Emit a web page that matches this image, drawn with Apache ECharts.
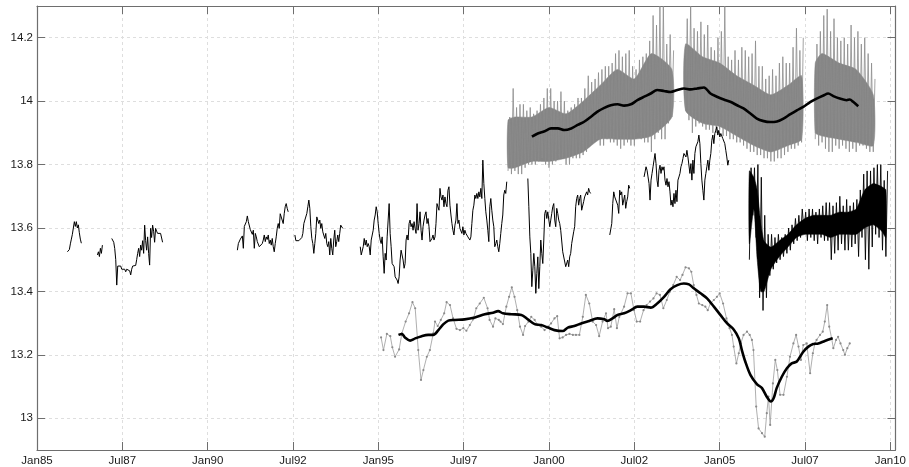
<!DOCTYPE html>
<html><head><meta charset="utf-8">
<script src="https://cdn.jsdelivr.net/npm/echarts@6/dist/echarts.min.js"></script>
<style>html,body{margin:0;padding:0;background:#fff}#c{width:909px;height:467px}</style>
</head><body><div id="c"></div><script>
// ---- axis ticks ----
const X_TICKS = [1985, 1987.5, 1990, 1992.5, 1995, 1997.5, 2000, 2002.5, 2005, 2007.5, 2010];
const Y_TICKS = [13, 13.2, 13.4, 13.6, 13.8, 14, 14.2];

// ---- gray dense band: extremes every 0.1 yr from 1998.8 ----
const GRAY_START = 1998.8, GRAY_STEP = 0.1;
const grayHi = [13.95,14.04,13.98,13.99,13.99,13.97,13.98,13.96,13.97,13.99,14.01,14.04,
  14.04,14.00,14.00,14.03,14.00,13.97,13.98,13.99,14.01,14.01,
  14.04,14.08,14.06,14.07,14.09,14.10,14.11,14.11,14.12,14.15,
  14.16,14.14,14.15,14.16,14.11,14.10,14.13,14.14,14.15,14.19,
  14.27,14.24,14.30,14.30,14.18,14.21,14.16,null,null,null,
  14.26,14.30,14.23,14.22,14.25,14.21,14.24,14.17,14.16,14.20,
  14.22,14.30,14.14,14.13,14.16,14.13,14.17,14.16,14.14,14.15,
  14.19,14.11,14.11,14.07,14.08,14.10,14.08,14.12,14.14,14.12,
  14.12,14.17,14.23,14.16,14.20,null,null,null,14.18,14.22,
  14.27,14.29,14.22,14.26,14.20,14.19,14.20,14.18,14.24,14.20,
  14.22,14.18,14.20,14.15,14.12,14.07];
const grayLo = [13.78,13.77,13.78,13.77,13.77,13.79,13.80,13.80,13.80,13.81,13.82,13.80,
  13.79,13.80,13.81,13.82,13.82,13.80,13.80,13.82,13.82,13.82,
  13.83,13.84,13.86,13.87,13.88,13.86,13.86,13.88,13.87,13.87,
  13.86,13.85,13.86,13.87,13.86,13.86,13.90,13.88,13.87,13.87,
  13.84,13.88,13.90,13.88,13.88,13.93,13.95,null,null,null,
  13.97,13.94,13.90,13.92,13.93,13.92,13.91,13.91,13.90,13.90,
  13.91,13.89,13.89,13.88,13.88,13.87,13.87,13.86,13.85,13.84,
  13.84,13.83,13.83,13.82,13.82,13.81,13.81,13.82,13.82,13.83,
  13.84,13.85,13.85,13.86,13.87,null,null,null,13.88,13.86,
  13.87,13.85,13.84,13.84,13.86,13.85,13.86,13.85,13.84,13.85,
  13.84,13.86,13.86,13.85,13.84,13.84];
// dense core of the gray band (null = gap)
const grayCoreYears = [1998.8,1999.0,1999.5,2000.0,2000.5,2001.0,2001.5,2002.0,2002.5,2003.0,2003.6,null,2004.0,2004.5,2005.0,2005.5,2006.0,2006.5,2007.0,2007.4,null,2007.8,2008.0,2008.5,2009.0,2009.5];
const grayCoreHi = [13.94,13.95,13.95,13.98,13.96,14.00,14.05,14.10,14.07,14.15,14.10,null,14.18,14.14,14.12,14.08,14.05,14.02,14.05,14.08,null,14.12,14.15,14.12,14.10,14.02];
const grayCoreLo = [13.79,13.79,13.81,13.81,13.82,13.84,13.88,13.88,13.88,13.89,13.95,null,13.97,13.93,13.92,13.89,13.86,13.84,13.86,13.88,null,13.90,13.89,13.88,13.87,13.86];

// ---- black dense series: extremes every 0.1 yr from 2005.87 ----
const DENSE_START = 2005.87, DENSE_STEP = 0.1;
const denseHi = [13.79,13.79,13.80,13.76,13.64,13.58,13.58,13.57,13.58,13.57,13.58,13.60,13.61,13.63,13.64,13.66,13.65,13.66,13.66,13.65,13.66,13.67,13.68,13.68,13.67,13.68,13.70,13.67,13.69,13.67,13.68,13.69,13.72,13.77,13.78,13.78,13.79,13.80,13.80,13.75,13.78];
const denseLo = [13.50,13.64,13.57,13.38,13.34,13.38,13.45,13.47,13.49,13.50,13.51,13.52,13.53,13.55,13.56,13.57,13.59,13.56,13.57,13.56,13.55,13.57,13.56,13.56,13.50,13.52,13.53,13.55,13.53,13.53,13.54,13.55,13.51,13.57,13.50,13.47,13.54,13.58,13.57,13.53,13.51];
const denseCoreYears = [2005.87,2006.0,2006.1,2006.2,2006.3,2006.5,2006.75,2007.0,2007.25,2007.5,2007.75,2008.0,2008.25,2008.5,2008.75,2009.0,2009.25,2009.5,2009.75,2009.87];
const denseCoreHi = [13.78,13.76,13.72,13.62,13.56,13.54,13.56,13.58,13.61,13.63,13.64,13.64,13.64,13.65,13.65,13.66,13.72,13.74,13.73,13.72];
const denseCoreLo = [13.55,13.66,13.50,13.40,13.40,13.47,13.51,13.54,13.57,13.58,13.58,13.58,13.57,13.58,13.58,13.58,13.60,13.61,13.59,13.57];

// ---- black thin segments (samples every BLACK_STEP yr) ----
const BLACK_STEP = 0.0292;
const segStarts = [1985.89, 1986.77, 1987.19, 1990.87, 1992.555, 1994.47, 1999.38, 2001.78, 2002.785];
const segA = [13.525,13.528,13.532,13.55,13.565,13.58,13.60,13.62,13.605,13.62,13.60,13.61,13.585,13.565,13.552];
const segB = [13.515,13.525,13.51,13.536,13.52,13.546];
const segC = [13.567,13.563,13.555,13.535,13.50,13.42,13.48,13.479,13.478,13.48,13.47,13.467,13.475,13.47,13.462,13.47,13.476,13.47,13.465,13.452,13.47,13.48,13.478,13.48,13.482,13.50,13.52,13.536,13.51,13.546,13.53,13.56,13.52,13.609,13.56,13.53,13.572,13.52,13.483,13.599,13.57,13.609,13.59,13.555,13.599,13.59,13.583,13.578,13.58,13.583,13.578,13.555];
const segD = [13.530,13.551,13.547,13.565,13.562,13.575,13.536,13.605,13.60,13.62,13.638,13.62,13.622,13.595,13.597,13.58,13.593,13.536,13.583,13.572,13.557,13.562,13.541,13.536,13.546,13.551,13.562,13.578,13.557,13.572,13.564,13.578,13.551,13.562,13.546,13.567,13.541,13.525,13.551,13.572,13.599,13.614,13.599,13.645,13.641,13.651,13.614,13.645,13.667,13.677,13.662,13.651];
const segE = [13.578,13.560,13.560,13.560,13.560,13.560,13.560,13.570,13.583,13.614,13.625,13.620,13.646,13.667,13.688,13.662,13.604,13.567,13.551,13.520,13.551,13.583,13.635,13.630,13.614,13.625,13.599,13.614,13.588,13.593,13.567,13.583,13.551,13.541,13.557,13.515,13.567,13.536,13.515,13.562,13.593,13.541,13.557,13.578,13.557,13.583,13.609,13.614,13.599];
const segF = [13.541,13.515,13.515,13.541,13.567,13.546,13.562,13.541,13.551,13.541,13.515,13.562,13.567,13.593,13.625,13.641,13.667,13.651,13.614,13.583,13.562,13.551,13.572,13.509,13.457,13.520,13.499,13.572,13.625,13.677,13.583,13.541,13.488,13.494,13.478,13.446,13.441,13.436,13.425,13.446,13.499,13.530,13.536,13.499,13.473,13.488,13.562,13.578,13.562,13.614,13.625,13.604,13.614,13.593,13.620,13.599,13.583,13.677,13.593,13.614,13.651,13.593,13.562,13.604,13.625,13.641,13.651,13.614,13.630,13.604,13.557,13.551,13.567,13.578,13.562,13.572,13.614,13.677,13.683,13.656,13.725,13.698,13.688,13.704,13.667,13.698,13.677,13.667,13.719,13.730,13.672,13.641,13.614,13.593,13.578,13.609,13.625,13.677,13.614,13.625,13.599,13.593,13.583,13.604,13.578,13.593,13.583,13.588,13.572,13.578,13.562,13.572,13.614,13.656,13.672,13.704,13.693,13.709,13.693,13.714,13.698,13.725,13.693,13.814,13.740,13.693,13.651,13.625,13.593,13.557,13.667,13.693,13.656,13.625,13.604,13.541,13.551,13.562,13.541,13.525,13.551,13.583,13.614,13.641,13.704,13.719,13.709,13.746];
const segG = [13.756,13.667,13.572,13.520,13.415,13.467,13.520,13.478,13.394,13.457,13.509,13.409,13.478,13.562,13.520,13.488,13.562,13.646,13.656,13.630,13.651,13.646,13.604,13.625,13.646,13.667,13.677,13.625,13.604,13.662,13.646,13.625,13.614,13.593,13.593,13.525,13.520,13.520,13.478,13.483,13.499,13.478,13.509,13.520,13.551,13.551,13.588,13.604,13.667,13.693,13.704,13.672,13.693,13.704,13.656,13.656,13.683,13.698,13.698,13.714,13.704,13.725,13.714,13.709];
const segH = [13.578,13.583,13.614,13.677,13.714,13.698,13.698,13.693,13.672,13.646,13.719,13.704,13.714,13.672,13.677,13.704,13.662,13.683,13.698,13.735,13.725];
const segI = [13.761,13.777,13.793,13.782,13.761,13.740,13.688,13.751,13.772,13.793,13.814,13.835,13.803,13.751,13.730,13.782,13.798,13.772,13.793,13.782,13.793,13.751,13.735,13.756,13.730,13.746,13.714,13.672,13.688,13.667,13.709,13.677,13.719,13.683,13.751,13.761,13.772,13.793,13.803,13.819,13.835,13.840,13.824,13.845,13.824,13.830,13.772,13.803,13.751,13.814,13.772,13.835,13.856,13.861,13.872,13.893,13.866,13.803,13.751,13.719,13.688,13.751,13.772,13.793,13.814,13.782,13.814,13.835,13.877,13.893,13.866,13.898,13.908,13.919,13.893,13.908,13.887,13.898,13.903,13.882,13.887,13.866,13.845,13.824,13.798,13.814];

// ---- lower gray series with dots ----
const lowYears = [
  1995.08,1995.15,1995.25,1995.35,1995.41,1995.49,1995.61,1995.69,1995.80,1995.90,
  1996.00,1996.08,1996.17,1996.25,1996.32,1996.42,1996.51,1996.61,1996.66,1996.74,1996.83,1996.93,
  1997.00,1997.10,1997.19,1997.29,1997.39,1997.49,1997.58,1997.68,1997.78,1997.87,1997.97,
  1998.09,1998.20,1998.26,1998.36,1998.43,1998.53,1998.58,1998.65,1998.75,1998.83,1998.91,1998.99,
  1999.07,1999.15,1999.24,1999.30,1999.40,1999.48,1999.58,1999.67,1999.77,1999.87,1999.97,
  2000.06,2000.16,2000.24,2000.31,2000.40,2000.50,2000.60,2000.70,2000.79,2000.89,2000.99,
  2001.08,2001.18,2001.28,2001.38,2001.47,2001.57,2001.67,2001.73,2001.81,2001.91,2001.99,
  2002.06,2002.20,2002.30,2002.40,2002.49,2002.57,2002.67,2002.77,2002.86,2002.96,
  2003.06,2003.15,2003.25,2003.35,2003.45,2003.54,2003.64,2003.74,2003.84,2003.91,
  2004.00,2004.10,2004.17,2004.24,2004.32,2004.39,2004.49,2004.58,2004.65,2004.73,2004.83,2004.92,
  2005.00,2005.10,2005.20,2005.29,2005.36,2005.41,2005.49,2005.56,2005.62,2005.70,2005.80,2005.88,2005.945,2005.99,
  2006.07,2006.14,2006.24,2006.32,2006.38,2006.43,2006.48,2006.56,2006.63,2006.69,2006.77,2006.87,2006.97,
  2007.06,2007.16,2007.24,2007.31,2007.38,2007.45,2007.55,2007.65,2007.73,2007.79,2007.84,2007.94,
  2008.02,2008.08,2008.15,2008.21,2008.28,2008.33,2008.41,2008.47,2008.54,2008.62,2008.67,2008.74,2008.81];
const lowValues = [
  13.255,13.215,13.266,13.259,13.224,13.194,13.217,13.268,13.305,13.331,
  13.366,13.347,13.215,13.121,13.152,13.194,13.215,13.268,13.305,13.291,13.310,13.331,
  13.366,13.357,13.315,13.282,13.278,13.284,13.276,13.294,13.312,13.347,13.362,
  13.380,13.347,13.310,13.289,13.315,13.310,13.305,13.297,13.352,13.383,13.413,13.383,
  13.341,13.289,13.263,13.291,13.305,13.320,13.310,13.294,13.289,13.278,13.289,
  13.299,13.315,13.322,13.252,13.255,13.263,13.266,13.263,13.263,13.263,13.320,
  13.389,13.362,13.305,13.294,13.259,13.305,13.331,13.284,13.289,13.344,13.284,
  13.320,13.352,13.394,13.394,13.341,13.305,13.305,13.341,13.357,13.368,
  13.378,13.394,13.389,13.347,13.373,13.399,13.420,13.446,13.436,13.452,
  13.476,13.473,13.462,13.420,13.389,13.362,13.357,13.352,13.341,13.362,13.373,13.383,
  13.394,13.362,13.315,13.284,13.263,13.226,13.173,13.205,13.236,13.263,13.273,13.263,13.247,13.215,
  13.037,12.968,12.953,12.942,13.016,13.068,12.979,13.110,13.184,13.152,13.074,13.074,13.131,
  13.194,13.236,13.263,13.226,13.184,13.231,13.236,13.142,13.205,13.236,13.247,13.263,
  13.273,13.305,13.357,13.289,13.252,13.221,13.247,13.257,13.236,13.215,13.200,13.221,13.236];

// ---- smoothed curves ----
const smoothLowYears = [1995.59,1995.69,1995.78,1995.93,1996.08,1996.27,1996.46,1996.61,1996.76,1996.90,1997.05,1997.24,1997.53,1997.83,1998.12,1998.36,1998.51,1998.65,1998.90,1999.19,1999.38,1999.58,1999.77,1999.97,2000.16,2000.40,2000.55,2000.74,2000.94,2001.18,2001.42,2001.62,2001.71,2001.86,2002.01,2002.20,2002.40,2002.59,2002.785,2002.98,2003.17,2003.37,2003.56,2003.76,2003.95,2004.10,2004.24,2004.44,2004.63,2004.83,2005.02,2005.22,2005.41,2005.56,2005.65,2005.75,2005.90,2006.09,2006.24,2006.38,2006.50,2006.58,2006.67,2006.82,2006.97,2007.11,2007.26,2007.45,2007.60,2007.74,2007.89,2008.08,2008.31];
const smoothLowValues = [13.263,13.266,13.255,13.245,13.252,13.259,13.263,13.263,13.278,13.296,13.308,13.310,13.312,13.318,13.328,13.333,13.338,13.331,13.328,13.326,13.312,13.297,13.294,13.286,13.278,13.275,13.286,13.291,13.299,13.307,13.315,13.312,13.307,13.315,13.326,13.331,13.341,13.352,13.352,13.349,13.362,13.383,13.407,13.420,13.425,13.422,13.410,13.394,13.378,13.352,13.326,13.299,13.280,13.252,13.215,13.179,13.137,13.108,13.095,13.068,13.053,13.063,13.095,13.131,13.158,13.173,13.179,13.210,13.226,13.234,13.236,13.244,13.252];
const smoothHighYears = [1999.50,1999.67,1999.87,2000.06,2000.26,2000.45,2000.65,2000.84,2001.03,2001.23,2001.42,2001.62,2001.81,2002.01,2002.20,2002.40,2002.59,2002.79,2002.98,2003.17,2003.37,2003.56,2003.76,2003.95,2004.15,2004.34,2004.54,2004.73,2004.92,2005.12,2005.31,2005.51,2005.70,2005.90,2006.09,2006.29,2006.48,2006.68,2006.87,2007.06,2007.26,2007.45,2007.65,2007.84,2008.04,2008.18,2008.33,2008.52,2008.72,2008.81,2008.91,2009.06];
const smoothHighValues = [13.888,13.898,13.905,13.914,13.914,13.909,13.914,13.925,13.935,13.951,13.967,13.979,13.987,13.990,13.986,13.990,14.003,14.014,14.024,14.035,14.032,14.029,14.035,14.040,14.037,14.040,14.043,14.024,14.014,14.005,13.998,13.987,13.977,13.961,13.945,13.937,13.934,13.936,13.945,13.958,13.971,13.982,13.997,14.008,14.018,14.024,14.016,14.008,14.003,14.005,13.998,13.984];

// ---- build series data ----
function zigzag(start, step, lo, hi) {
  const out = [];
  for (let i = 0; i < lo.length; i++) {
    const t = start + i * step;
    if (lo[i] == null || hi[i] == null) { out.push([t, null]); continue; }
    out.push([t, lo[i]]);
    out.push([t + step / 2, hi[i]]);
  }
  return out;
}
// contiguous runs of a core outline (split at null years)
function coreRuns(years) {
  const out = []; let s = -1;
  for (let i = 0; i <= years.length; i++) {
    const ok = i < years.length && years[i] != null;
    if (ok && s < 0) s = i;
    if (!ok && s >= 0) { out.push([years[s], years[i - 1], s, i - 1]); s = -1; }
  }
  return out;
}
function coreSeries(name, years, hi, lo, color, z) {
  return {
    name, type: 'custom', z, clip: true, silent: true,
    data: coreRuns(years),
    encode: { x: [0, 1] },
    renderItem: function (params, api) {
      const s = api.value(2), e = api.value(3);
      const pts = [];
      for (let i = s; i <= e; i++) pts.push(api.coord([years[i], hi[i]]));
      for (let i = e; i >= s; i--) pts.push(api.coord([years[i], lo[i]]));
      return { type: 'polygon', shape: { points: pts, smooth: 0.2 },
        style: { fill: color, stroke: color, lineWidth: 0.5 } };
    }
  };
}
function pairs(xs, ys) { return xs.map((x, i) => [x, ys[i]]); }
const segs = [segA, segB, segC, segD, segE, segF, segG, segH, segI];
const blackThin = [];
segs.forEach((s, k) => {
  s.forEach((v, i) => blackThin.push([segStarts[k] + i * BLACK_STEP, v]));
  blackThin.push([segStarts[k] + s.length * BLACK_STEP, null]);
});

const AXIS_COLOR = '#6e6e6e';
const GRID_LINE = { show: true, lineStyle: { color: '#dedede', width: 1, type: [3, 3] } };
const LABEL_FONT = { color: '#1a1a1a', fontSize: 11.5, fontFamily: 'Liberation Sans, Arial, sans-serif' };
const GRAY = '#858585';
function fmtX(v) {
  const y = Math.floor(v + 1e-6);
  const m = (v - y) > 0.25 ? 'Jul' : 'Jan';
  return m + String(y).slice(2);
}

const chart = echarts.init(document.getElementById('c'), null, { renderer: 'canvas' });
chart.setOption({
  animation: false,
  backgroundColor: '#ffffff',
  grid: { left: 37, right: 10, top: 6, bottom: 17, containLabel: false },
  xAxis: [
    { type: 'value', min: 1985, max: 2010.15, position: 'bottom',
      axisLine: { onZero: false, lineStyle: { color: AXIS_COLOR, width: 1.2 } },
      axisTick: { inside: true, length: 8, customValues: X_TICKS, lineStyle: { color: AXIS_COLOR } },
      axisLabel: Object.assign({ customValues: X_TICKS, formatter: fmtX, margin: 5 }, LABEL_FONT),
      splitLine: GRID_LINE },
    { type: 'value', min: 1985, max: 2010.15, position: 'top',
      axisLine: { onZero: false, lineStyle: { color: AXIS_COLOR, width: 1.2 } },
      axisTick: { inside: true, length: 8, customValues: X_TICKS, lineStyle: { color: AXIS_COLOR } },
      axisLabel: { show: false }, splitLine: { show: false } }
  ],
  yAxis: [
    { type: 'value', min: 12.9, max: 14.3, position: 'left',
      axisLine: { show: true, onZero: false, lineStyle: { color: AXIS_COLOR, width: 1.2 } },
      axisTick: { show: true, inside: true, length: 8, customValues: Y_TICKS, lineStyle: { color: AXIS_COLOR } },
      axisLabel: Object.assign({ customValues: Y_TICKS, margin: 4, formatter: v => String(Math.round(v * 10) / 10) }, LABEL_FONT),
      splitLine: GRID_LINE },
    { type: 'value', min: 12.9, max: 14.3, position: 'right',
      axisLine: { show: true, onZero: false, lineStyle: { color: AXIS_COLOR, width: 1.2 } },
      axisTick: { show: true, inside: true, length: 8, customValues: Y_TICKS, lineStyle: { color: AXIS_COLOR } },
      axisLabel: { show: false }, splitLine: { show: false } }
  ],
  series: [
    coreSeries('grayCore', grayCoreYears, grayCoreHi, grayCoreLo, GRAY, 1),
    { name: 'grayBand', type: 'line', data: zigzag(GRAY_START, GRAY_STEP, grayLo, grayHi),
      showSymbol: false, symbol: 'none', lineStyle: { color: '#8c8c8c', width: 0.8 }, z: 2 },
    { name: 'blackThin', type: 'line', data: blackThin, showSymbol: false, symbol: 'none',
      lineStyle: { color: '#000', width: 1 }, z: 3 },
    coreSeries('denseCore', denseCoreYears, denseCoreHi, denseCoreLo, '#000', 3),
    { name: 'blackDense', type: 'line', data: zigzag(DENSE_START, DENSE_STEP, denseLo, denseHi),
      showSymbol: false, symbol: 'none', lineStyle: { color: '#000', width: 0.9 }, z: 3 },
    { name: 'lowGray', type: 'line', data: pairs(lowYears, lowValues), symbol: 'circle', symbolSize: 2.2,
      showSymbol: true, itemStyle: { color: '#8a8a8a' }, lineStyle: { color: '#9a9a9a', width: 0.8 }, z: 4 },
    { name: 'smoothHigh', type: 'line', data: pairs(smoothHighYears, smoothHighValues), smooth: 0.3,
      showSymbol: false, symbol: 'none', lineStyle: { color: '#000', width: 2.6 }, z: 5 },
    { name: 'smoothLow', type: 'line', data: pairs(smoothLowYears, smoothLowValues), smooth: 0.3,
      showSymbol: false, symbol: 'none', lineStyle: { color: '#000', width: 2.6 }, z: 5 }
  ]
});
</script></body></html>
